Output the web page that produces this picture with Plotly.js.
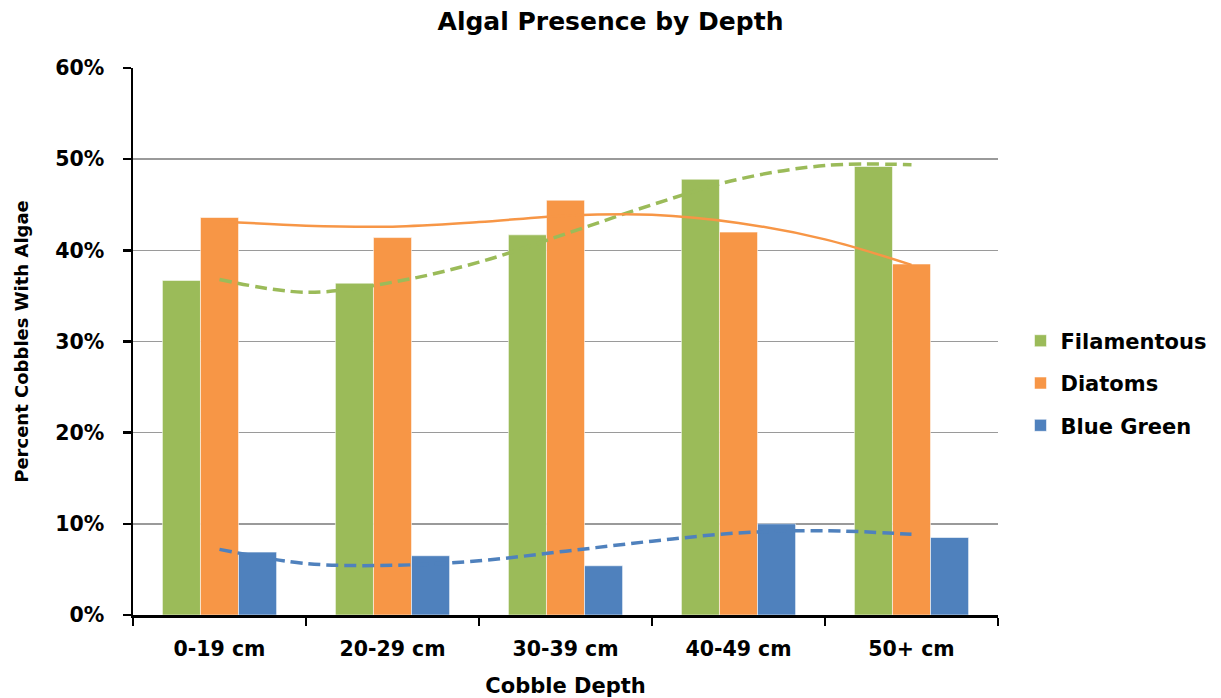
<!DOCTYPE html>
<html>
<head>
<meta charset="utf-8">
<script src="https://cdn.plot.ly/plotly-3.0.1.min.js"></script>
<style>
  html, body { margin: 0; padding: 0; background: #fff; }
  #chart { width: 1221px; height: 698px; }
</style>
</head>
<body>
<div id="chart"></div>
<script>
// Cobble depth classes
const depths = ['0-19 cm', '20-29 cm', '30-39 cm', '40-49 cm', '50+ cm'];

// Percent of cobbles with each algal type
const filamentous = [36.7, 36.4, 41.7, 47.8, 49.2];
const diatoms     = [43.6, 41.4, 45.5, 42.0, 38.5];
const blueGreen   = [6.9, 6.5, 5.4, 10.0, 8.5];

// Polynomial trend curves, sampled along the depth classes (0 = first class)
const trendX       = [0, 0.5, 1, 1.5, 2, 2.5, 3, 3.5, 4];
const filTrend     = [36.8, 35.4, 36.5, 38.7, 41.8, 45.0, 47.8, 49.3, 49.4];
const diaTrend     = [43.2, 42.7, 42.6, 43.1, 43.8, 43.9, 43.0, 41.2, 38.4];
const bgTrend      = [7.2, 5.65, 5.45, 5.95, 7.0, 8.1, 9.0, 9.25, 8.85];

const yTicks = [0, 10, 20, 30, 40, 50, 60];
const yTickText = yTicks.map(v => v + '%');

const GREEN = '#9BBB59', ORANGE = '#F79646', BLUE = '#4F81BD';
const FONT = 'DejaVu Sans';
const barLine = { color: 'rgba(255,255,255,0.55)', width: 1 };

const traces = [
  { type: 'bar', name: 'Filamentous', x: depths, y: filamentous, legendgroup: 'f',
    marker: { color: GREEN, line: barLine } },
  { type: 'bar', name: 'Diatoms', x: depths, y: diatoms, legendgroup: 'd',
    marker: { color: ORANGE, line: barLine } },
  { type: 'bar', name: 'Blue Green', x: depths, y: blueGreen, legendgroup: 'b',
    marker: { color: BLUE, line: barLine } },
  { type: 'scatter', mode: 'lines', x: trendX, y: filTrend, xaxis: 'x2', showlegend: false,
    hoverinfo: 'skip', line: { color: GREEN, width: 3.5, dash: '12px,6px', shape: 'spline', smoothing: 1 } },
  { type: 'scatter', mode: 'lines', x: trendX, y: diaTrend, xaxis: 'x2', showlegend: false,
    hoverinfo: 'skip', line: { color: ORANGE, width: 2.5, shape: 'spline', smoothing: 1 } },
  { type: 'scatter', mode: 'lines', x: trendX, y: bgTrend, xaxis: 'x2', showlegend: false,
    hoverinfo: 'skip', line: { color: BLUE, width: 3.5, dash: '12px,6px', shape: 'spline', smoothing: 1 } }
];

const layout = {
  width: 1221, height: 698,
  margin: { l: 133, r: 223, t: 68, b: 83, pad: 0, autoexpand: false },
  paper_bgcolor: '#ffffff', plot_bgcolor: '#ffffff',
  font: { family: FONT, color: '#000', weight: 'bold' },
  title: {
    text: 'Algal Presence by Depth',
    font: { family: FONT, size: 25, weight: 'bold', color: '#000' },
    xref: 'container', x: 0.5, xanchor: 'center',
    yref: 'container', y: 1 - 21 / 698, yanchor: 'middle'
  },
  barmode: 'group', bargap: 0.34, bargroupgap: 0,
  xaxis: {
    type: 'category', tickson: 'boundaries',
    showline: true, linecolor: '#000', linewidth: 2.5,
    ticks: 'outside', ticklen: 8, tickwidth: 2.5, tickcolor: '#000',
    showgrid: false, zeroline: false,
    ticklabelstandoff: 14,
    tickfont: { family: FONT, size: 20.5, weight: 'bold', color: '#000' },
    title: { text: 'Cobble Depth', standoff: 18,
             font: { family: FONT, size: 21, weight: 'bold', color: '#000' } }
  },
  xaxis2: { overlaying: 'x', range: [-0.5, 4.5], visible: false, fixedrange: true },
  yaxis: {
    range: [0, 60], tickmode: 'array', tickvals: yTicks, ticktext: yTickText,
    showline: true, linecolor: '#000', linewidth: 2.5,
    ticks: 'outside', ticklen: 8, tickwidth: 2.5, tickcolor: '#000',
    showgrid: true, gridcolor: '#9a9a9a', gridwidth: 1.5, zeroline: false,
    ticklabelstandoff: 14,
    tickfont: { family: FONT, size: 20.5, weight: 'bold', color: '#000' },
    title: { text: 'Percent Cobbles With Algae', standoff: 22,
             font: { family: FONT, size: 18, weight: 'bold', color: '#000' } }
  },
  showlegend: true,
  legend: {
    x: 1.026, xanchor: 'left', y: 0.424, yanchor: 'middle',
    font: { family: FONT, size: 21, weight: 'bold', color: '#000' },
    tracegroupgap: 12, traceorder: 'grouped',
    bgcolor: 'rgba(0,0,0,0)', borderwidth: 0
  }
};

Plotly.newPlot('chart', traces, layout, { displayModeBar: false, staticPlot: true });
</script>
</body>
</html>
